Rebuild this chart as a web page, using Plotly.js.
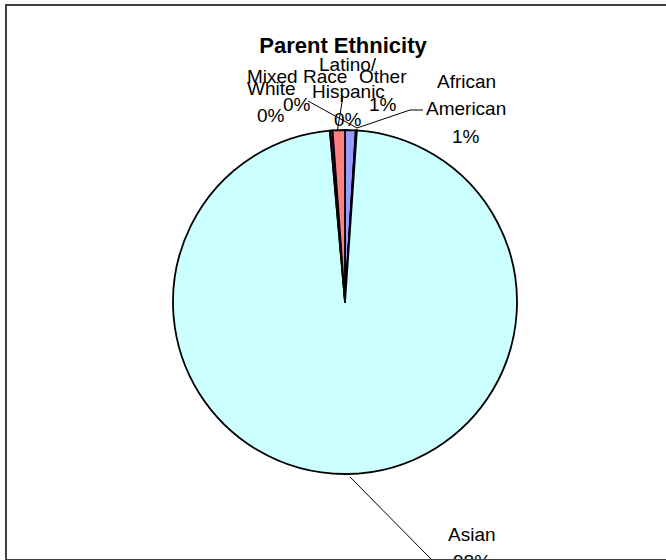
<!DOCTYPE html>
<html>
<head>
<meta charset="utf-8">
<script src="https://cdn.plot.ly/plotly-3.0.1.min.js"></script>
<style>
  html, body { margin: 0; padding: 0; background: #ffffff; overflow: hidden; }
  #wrap { position: relative; width: 666px; height: 560px; overflow: hidden; }
  #chart { position: absolute; left: 0; top: 0; width: 666px; height: 560px; }
  #frame { position: absolute; left: 5px; top: 4px; width: 720px; height: 553px;
           border: 2px solid #404040; pointer-events: none; }
</style>
</head>
<body>
<div id="wrap">
  <div id="chart"></div>
  <div id="frame"></div>
</div>
<script>
// ---- data ----
const categories = ['African American', 'Mixed Race', 'White', 'Asian', 'Latino/Hispanic', 'Other'];
const values = [1.0, 0.05, 0.05, 97.5, 0.25, 1.15];
const sliceColors = ['#9999FF', '#993366', '#FFFFCC', '#CCFFFF', '#660066', '#FF8080'];
const labelLines = [['African', 'American'], ['Mixed Race'], ['White'], ['Asian'], ['Latino/', 'Hispanic'], ['Other']];
const chartTitle = 'Parent Ethnicity';

// ---- layout helpers (pixel -> paper) ----
const W = 666, H = 560;
const px = x => x / W;
const py = y => 1 - y / H;

// label placement (centre of first text line, in pixels)
const labelPos = [[466, 81], [297, 77], [271, 88], [472, 534], [348, 64], [383, 77]];
const lineStep = 27.5;

// leader lines (pixels)
const leaders = [
  [[423, 110], [410, 110], [357, 128]],
  [[308, 101], [357, 128]],
  [[343, 96], [337.5, 130]],
  [[350, 477], [432, 560], [443, 560]]
];

const total = values.reduce((a, b) => a + b, 0);
const pct = values.map(v => Math.round(v / total * 100) + '%');

const font = 'Liberation Sans, Arial, sans-serif';
const annotations = [];
categories.forEach((c, i) => {
  const lines = labelLines[i].concat([pct[i]]);
  lines.forEach((t, k) => {
    annotations.push({
      xref: 'paper', yref: 'paper',
      x: px(labelPos[i][0]), y: py(labelPos[i][1] + k * lineStep),
      xanchor: 'center', yanchor: 'middle',
      text: t, showarrow: false,
      font: { family: font, size: 19, color: '#000000' }
    });
  });
});

const shapes = leaders.map(pts => ({
  type: 'path', xref: 'paper', yref: 'paper',
  path: pts.map((p, k) => (k ? 'L' : 'M') + px(p[0]) + ',' + py(p[1])).join(' '),
  line: { color: '#000000', width: 1 }
}));

const trace = {
  type: 'pie',
  labels: categories,
  values: values,
  sort: false,
  direction: 'clockwise',
  rotation: 0,
  textinfo: 'none',
  hoverinfo: 'label+percent',
  marker: { colors: sliceColors, line: { color: '#000000', width: 1.8 } },
  domain: { x: [px(173), px(517)], y: [py(474), py(130)] },
  showlegend: false
};

const layout = {
  width: W, height: H,
  margin: { l: 0, r: 0, t: 0, b: 0 },
  paper_bgcolor: '#ffffff',
  plot_bgcolor: '#ffffff',
  title: {
    text: '<b>' + chartTitle + '</b>',
    x: px(343), xanchor: 'center',
    y: py(45), yanchor: 'middle',
    font: { family: font, size: 22, color: '#000000' }
  },
  annotations: annotations,
  shapes: shapes,
  showlegend: false
};

Plotly.newPlot('chart', [trace], layout, { displayModeBar: false, staticPlot: true });
</script>
</body>
</html>
